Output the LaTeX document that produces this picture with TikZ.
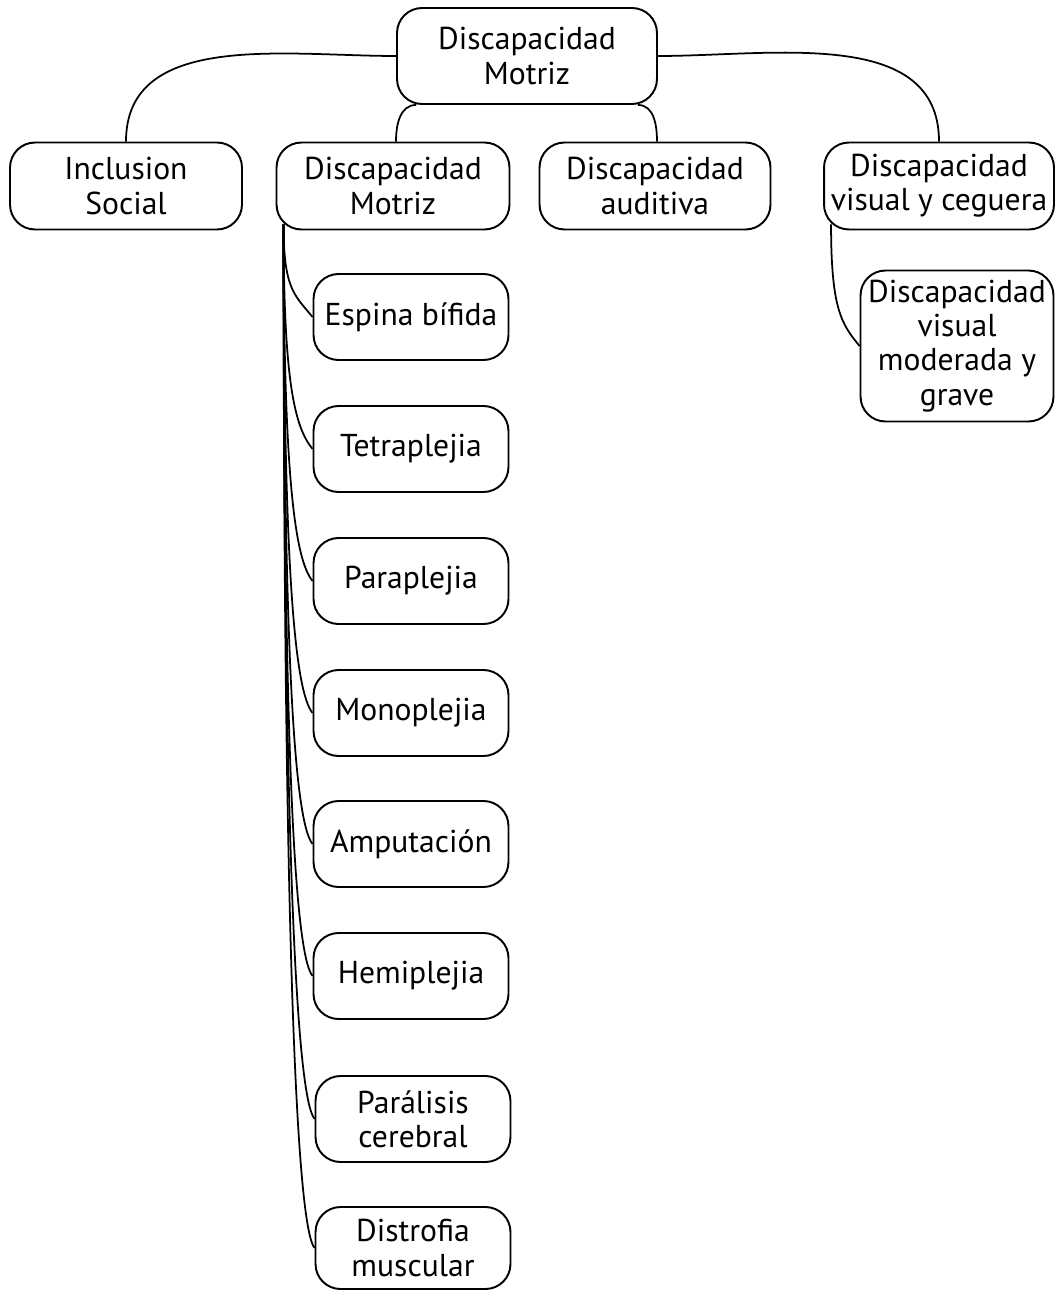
\documentclass[tikz,border=0pt]{standalone}
\usepackage{fontspec}
\setmainfont{PT Sans}
\usetikzlibrary{calc}
\begin{document}
\begin{tikzpicture}[x=0.02cm, y=-0.02cm,
  every node/.style={draw, rounded corners=0.5cm, align=center, inner sep=0pt, line width=1.1pt, font=\fontsize{18}{19.5}\selectfont},
  every path/.style={line width=1pt}]
\useasboundingbox (0,0) rectangle (1062,1291);
% top row
\node[minimum width=5.2cm, minimum height=1.92cm] (DM0) at (527,56) {Discapacidad\\Motriz};
\node[minimum width=4.64cm, minimum height=1.74cm] (IS) at (126,186) {Inclusion\\Social};
\node[minimum width=4.66cm, minimum height=1.74cm] (DM1) at (393,186) {Discapacidad\\Motriz};
\node[minimum width=4.62cm, minimum height=1.74cm] (DA) at (655,186) {Discapacidad\\auditiva};
\node[minimum width=4.6cm, minimum height=1.74cm] (DV) at (939,186) {Discapacidad\\visual y ceguera};
\node[minimum width=3.86cm, minimum height=3.02cm] (DV1) at (957,346) {Discapacidad\\visual\\moderada y\\grave};
% motriz children
\node[minimum width=3.9cm, minimum height=1.72cm] (M1) at (411,317) {Espina bífida};
\node[minimum width=3.9cm, minimum height=1.72cm] (M2) at (411,449) {Tetraplejia};
\node[minimum width=3.9cm, minimum height=1.72cm] (M3) at (411,581) {Paraplejia};
\node[minimum width=3.9cm, minimum height=1.72cm] (M4) at (411,713) {Monoplejia};
\node[minimum width=3.9cm, minimum height=1.72cm] (M5) at (411,844) {Amputación};
\node[minimum width=3.9cm, minimum height=1.72cm] (M6) at (411,976) {Hemiplejia};
\node[minimum width=3.9cm, minimum height=1.72cm] (M7) at (413,1119) {Parálisis\\cerebral};
\node[minimum width=3.9cm, minimum height=1.64cm] (M8) at (413,1248) {Distrofia\\muscular};
% connectors
\draw (DM0.west) to[out=180,in=90] (IS.north);
\draw (DM0.east) to[out=0,in=90] (DV.north);
\draw ($(DM0.south west)+(20,0)$) to[out=180,in=90] ($(DM1.north)+(3,0)$);
\draw ($(DM0.south east)+(-20,0)$) to[out=0,in=90] ($(DA.north)+(2,0)$);
\coordinate (S) at ($(DM1.south west)+(8,-6)$);
\draw (S) .. controls ($(S)!0.7!(S|-M1.west)$) and ($(M1.west)+(-18,-22)$) .. (M1.west);
\draw (S) .. controls ($(S)!0.7!(S|-M2.west)$) and ($(M2.west)+(-18,-22)$) .. (M2.west);
\draw (S) .. controls ($(S)!0.7!(S|-M3.west)$) and ($(M3.west)+(-18,-22)$) .. (M3.west);
\draw (S) .. controls ($(S)!0.7!(S|-M4.west)$) and ($(M4.west)+(-18,-22)$) .. (M4.west);
\draw (S) .. controls ($(S)!0.7!(S|-M5.west)$) and ($(M5.west)+(-18,-22)$) .. (M5.west);
\draw (S) .. controls ($(S)!0.7!(S|-M6.west)$) and ($(M6.west)+(-18,-22)$) .. (M6.west);
\draw (S) .. controls ($(S)!0.7!(S|-M7.west)$) and ($(M7.west)+(-18,-22)$) .. (M7.west);
\draw (S) .. controls ($(S)!0.7!(S|-M8.west)$) and ($(M8.west)+(-18,-22)$) .. (M8.west);
\coordinate (T) at ($(DV.south west)+(8,-6)$);
\draw (T) .. controls ($(T)!0.7!(T|-DV1.west)$) and ($(DV1.west)+(-18,-22)$) .. (DV1.west);
\end{tikzpicture}
\end{document}
